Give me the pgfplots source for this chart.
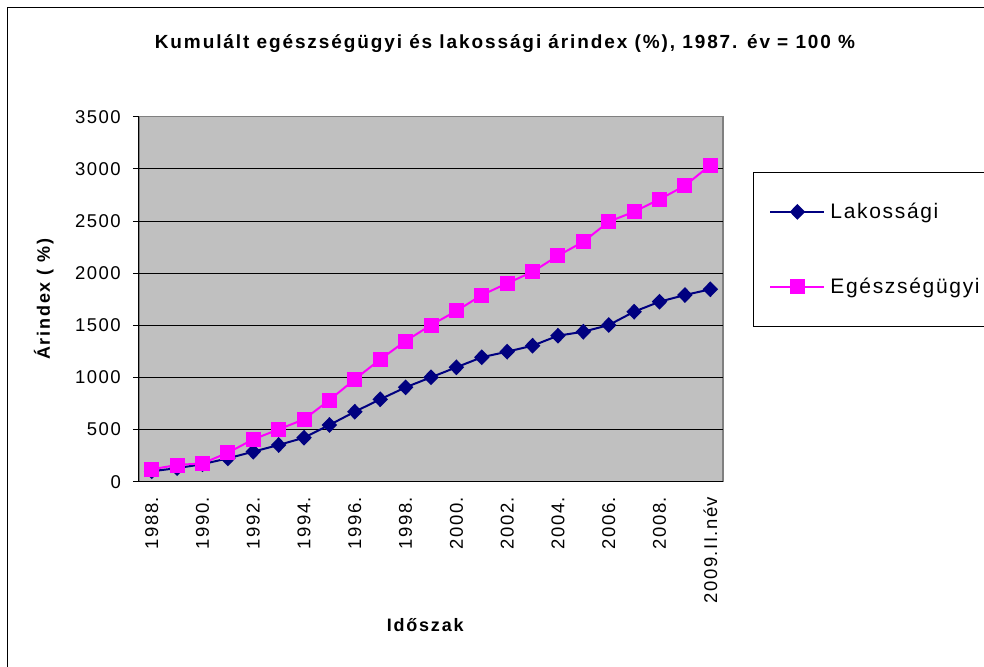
\documentclass[border=0pt]{standalone}
\usepackage{fontspec}
\setmainfont{Liberation Sans}
\usepackage{pgfplots}
\usepackage{pgfplotstable}
\pgfplotsset{compat=1.18}
\definecolor{navyline}{RGB}{0,0,128}
\definecolor{pinkline}{RGB}{255,0,255}
\definecolor{plotbg}{RGB}{192,192,192}
\definecolor{plotborder}{RGB}{128,128,128}

\pgfplotstableread{
idx lak egu
0 100 119
1 130 160
2 168 176
3 224 278
4 288 406
5 352 502
6 422 598
7 544 783
8 671 982
9 790 1173
10 905 1349
11 1001 1502
12 1097 1637
13 1193 1790
14 1247 1902
15 1304 2013
16 1400 2167
17 1438 2301
18 1502 2493
19 1630 2589
20 1726 2708
21 1790 2838
22 1845 3036
}\datatable

\begin{document}
\begin{tikzpicture}[x=1pt,y=1pt]
\begin{axis}[
  scale only axis, width=584pt, height=365pt,
  xmin=-0.5, xmax=22.5, ymin=0, ymax=3500,
  axis x line=bottom, axis y line=left,
  axis line style={-, black, line width=1pt},
  axis background/.style={fill=plotbg, draw=plotborder, line width=1.5pt},
  ytick={0,500,...,3000},
  extra y ticks={3500},
  extra y tick style={grid=none},
  ymajorgrids,
  major grid style={black, line width=0.8pt},
  tick align=outside,
  major tick length=6pt,
  tick style={black, line width=0.8pt},
  xtick={0,2,...,22},
  xticklabels={1988.,1990.,1992.,1994.,1996.,1998.,2000.,2002.,2004.,2006.,2008.,2009.II.név},
  x tick style={draw=none},
  extra x ticks={-0.5,0.5,...,22.5},
  extra x tick labels={},
  extra x tick style={grid=none, tick style={black, line width=0.8pt}},
  xticklabel style={rotate=90, anchor=east, inner sep=0pt, xshift=-9pt},
  /pgf/number format/assume math mode=true,
  /pgf/number format/set thousands separator={},
  tick label style={font=\fontsize{18.5}{22}\selectfont\addfontfeature{LetterSpace=8}},
  yticklabel style={inner sep=0pt, xshift=-12pt},
  title={Kumulált egészségügyi és lakossági árindex (\%), 1987. év = 100 \%},
  title style={at={(0.6267,1.1827)}, anchor=center, inner sep=0pt, font=\bfseries\fontsize{19}{22}\selectfont\addfontfeature{LetterSpace=10}},
  xlabel={Időszak},
  xlabel style={at={(0.49,-0.3926)}, anchor=center, inner sep=0pt, font=\bfseries\fontsize{18}{22}\selectfont\addfontfeature{LetterSpace=10}},
  ylabel={Árindex ( \%)},
  ylabel style={at={(-0.163,0.5)}, anchor=center, inner sep=0pt, font=\bfseries\fontsize{18}{22}\selectfont\addfontfeature{LetterSpace=10}},
  legend style={at={(1.0514,0.8485)}, anchor=north west, draw=black, line width=0.8pt, fill=white,
    font=\fontsize{21}{24}\selectfont\addfontfeature{LetterSpace=8}, inner xsep=16pt, inner ysep=29pt, row sep=54pt, column sep=3pt},
  legend cell align=left,
  legend image code/.code={\draw[mark repeat=2,mark phase=2,#1] plot coordinates {(0pt,0pt) (27pt,0pt) (54pt,0pt)};},
]
\coordinate (O) at (rel axis cs:0,0);
\addplot[navyline, line width=2pt, mark=diamond*, mark size=6.5pt, mark options={solid, fill=navyline, xscale=1.3}] table[x=idx, y=lak] {\datatable};
\addlegendentry{\makebox[190pt][l]{Lakossági}}
\addplot[pinkline, line width=2pt, mark=square*, mark size=6.5pt, mark options={solid, fill=pinkline}] table[x=idx, y=egu] {\datatable};
\addlegendentry{\makebox[190pt][l]{Egészségügyi}}
\end{axis}
\pgfresetboundingbox
\begin{scope}[shift={(O)}]
\path[use as bounding box] (-139,-184.3) rectangle (845,481.7);
\draw[line width=1pt] (-131,-200) -- (-131,473.7) -- (870,473.7);
\end{scope}
\end{tikzpicture}
\end{document}
